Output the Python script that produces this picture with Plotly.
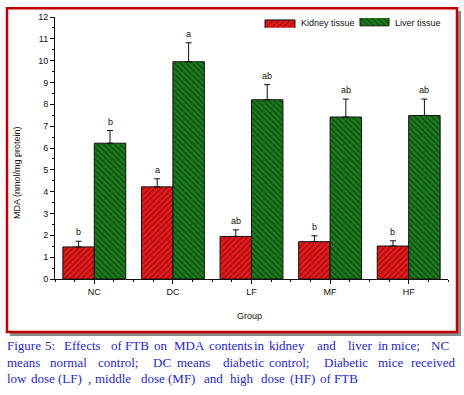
import plotly.graph_objects as go

groups = ["NC", "DC", "LF", "MF", "HF"]
kidney = [1.47, 4.22, 1.95, 1.71, 1.51]
kidney_err = [0.26, 0.37, 0.30, 0.27, 0.24]
liver = [6.22, 9.95, 8.21, 7.42, 7.49]
liver_err = [0.58, 0.87, 0.69, 0.82, 0.75]
kidney_sig = ["b", "a", "ab", "b", "b"]
liver_sig = ["b", "a", "ab", "ab", "ab"]
series_names = ["Kidney tissue", "Liver tissue"]
caption_line1 = ["Figure", "5:", "Effects", "of", "FTB", "on", "MDA", "contents", "in", "kidney",
                 "and", "liver", "in", "mice;", "NC"]
caption_line2 = ["means", "normal", "control;", "DC", "means", "diabetic", "control;", "Diabetic",
                 "mice", "received"]
caption_line3 = ["low", "dose", "(LF)", ",", "middle", "dose", "(MF)", "and", "high", "dose",
                 "(HF)", "of", "FTB"]

# layout: pixel x of each caption word (justified caption)
line1_x = [6, 44, 63, 110, 124, 153, 173, 208, 253, 268, 316, 347, 377, 390, 430]
line2_x = [6, 49, 97, 152, 176, 222, 268, 323, 377, 410]
line3_x = [6, 30, 57, 87, 94, 140, 167, 203, 229, 260, 289, 319, 333]

W, H = 464, 395
L, R, T, B = 55, 448, 12, 279

def px(x):
    return (x - L) / (R - L)

def py(y):
    return (B - y) / (B - T)

KID = dict(color="#e41c1c", line=dict(color="#111", width=1),
           pattern=dict(shape="/", fgcolor="#5a0000", bgcolor="#e41c1c", size=4, solidity=0.35))
LIV = dict(color="#1c7d1c", line=dict(color="#111", width=1),
           pattern=dict(shape="\\", fgcolor="#052405", bgcolor="#1c7d1c", size=4, solidity=0.4))

xs = list(range(len(groups)))
fig = go.Figure()
fig.add_trace(go.Bar(
    x=xs, y=kidney, name=series_names[0], marker=KID, showlegend=False,
    error_y=dict(type="data", array=kidney_err, symmetric=False, arrayminus=[0]*5,
                 color="#111", thickness=1, width=3),
))
fig.add_trace(go.Bar(
    x=xs, y=liver, name=series_names[1], marker=LIV, showlegend=False,
    error_y=dict(type="data", array=liver_err, symmetric=False, arrayminus=[0]*5,
                 color="#111", thickness=1, width=3),
))
# legend swatches on an auxiliary pixel-scaled axis
fig.add_trace(go.Bar(orientation="h", y=[0], x=[30], base=[265], width=[1], marker=KID,
                     xaxis="x2", yaxis="y2", showlegend=False, hoverinfo="skip"))
fig.add_trace(go.Bar(orientation="h", y=[0], x=[29], base=[360], width=[1], marker=LIV,
                     xaxis="x2", yaxis="y2", showlegend=False, hoverinfo="skip"))

lab = dict(size=9, color="#111", family="Liberation Sans")
annotations = []
for i in xs:
    annotations.append(dict(x=i - 0.2, y=kidney[i] + kidney_err[i], text=kidney_sig[i],
                            showarrow=False, xanchor="center", yanchor="bottom", yshift=2, font=lab))
    annotations.append(dict(x=i + 0.2, y=liver[i] + liver_err[i], text=liver_sig[i],
                            showarrow=False, xanchor="center", yanchor="bottom", yshift=2, font=lab))

annotations.append(dict(xref="paper", yref="paper", x=px(299), y=py(18), text=series_names[0],
                        xanchor="left", yanchor="middle", showarrow=False, font=lab))
annotations.append(dict(xref="paper", yref="paper", x=px(393), y=py(18), text=series_names[1],
                        xanchor="left", yanchor="middle", showarrow=False, font=lab))
annotations.append(dict(xref="paper", yref="paper", x=px(17), y=py(171), text="MDA (nmol/mg protein)",
                        textangle=-90, xanchor="center", yanchor="middle", showarrow=False, font=lab))
annotations.append(dict(xref="paper", yref="paper", x=px(249), y=py(317), text="Group",
                        xanchor="center", yanchor="middle", showarrow=False, font=lab))

cap = dict(size=13, color="#2626c8", family="Liberation Serif")
for words, xpos, ypix in [(caption_line1, line1_x, 347), (caption_line2, line2_x, 364),
                          (caption_line3, line3_x, 380)]:
    for w, x in zip(words, xpos):
        annotations.append(dict(xref="paper", yref="paper", x=px(x), y=py(ypix), text=w,
                                xanchor="left", yanchor="middle", showarrow=False, font=cap,
                                borderpad=0))

shapes = [
    dict(type="rect", xref="paper", yref="paper", x0=px(457), x1=px(461), y0=py(337), y1=py(6),
         fillcolor="#8c8c8c", line=dict(width=0)),
    dict(type="rect", xref="paper", yref="paper", x0=px(10), x1=px(461), y0=py(337), y1=py(333),
         fillcolor="#8c8c8c", line=dict(width=0)),
    dict(type="rect", xref="paper", yref="paper", x0=px(7), x1=px(457), y0=py(333), y1=py(3),
         line=dict(color="#c00000", width=2.5)),
]

fig.update_layout(
    width=W, height=H,
    margin=dict(l=L, r=W - R, t=T, b=H - B),
    paper_bgcolor="white", plot_bgcolor="rgba(0,0,0,0)",
    barmode="group", bargap=0.2, bargroupgap=0,
    showlegend=False,
    annotations=annotations,
    shapes=shapes,
    font=dict(family="Liberation Sans", size=9, color="#111"),
    xaxis=dict(
        range=[-0.5, 4.5], tickvals=xs, ticktext=groups, showgrid=False, zeroline=False,
        showline=True, linecolor="#111", linewidth=1, ticks="outside", ticklen=4, tickcolor="#111",
        tickfont=dict(size=9, color="#111"),
        minor=dict(dtick=0.25, ticklen=2, tickcolor="#111", ticks="outside"),
    ),
    yaxis=dict(
        range=[0, 12], dtick=1, showgrid=False, zeroline=False,
        showline=True, linecolor="#111", linewidth=1, ticks="outside", ticklen=4, tickcolor="#111",
        tickfont=dict(size=9, color="#111"),
        minor=dict(dtick=0.5, ticklen=2, tickcolor="#111", ticks="outside"),
    ),
    xaxis2=dict(domain=[0, 1], range=[L, R], anchor="y2", visible=False, fixedrange=True),
    yaxis2=dict(domain=[py(23), py(13)], range=[-0.5, 0.5], anchor="x2", visible=False, fixedrange=True),
)

fig.write_html("out.html", config={"displayModeBar": False},
               post_script="document.body.style.margin='0';")
